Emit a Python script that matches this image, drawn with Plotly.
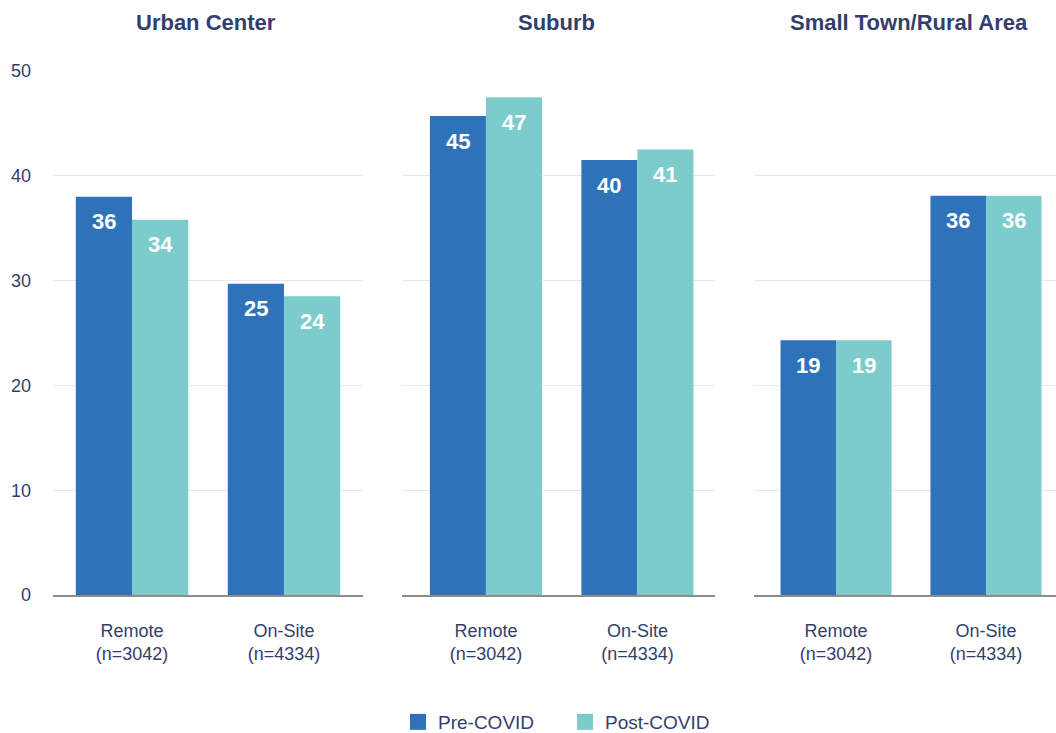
import plotly.graph_objects as go
from plotly.subplots import make_subplots

# data
regions = ["Urban Center", "Suburb", "Small Town/Rural Area"]
work_types = ["Remote<br>(n=3042)", "On-Site<br>(n=4334)"]

pre_values = [[38.0, 29.7], [45.7, 41.5], [24.3, 38.1]]
post_values = [[35.8, 28.5], [47.5, 42.5], [24.3, 38.1]]
pre_labels = [["36", "25"], ["45", "40"], ["19", "36"]]
post_labels = [["34", "24"], ["47", "41"], ["19", "36"]]
y_ticks = [0, 10, 20, 30, 40, 50]

PRE_COLOR = "#2e73b9"
POST_COLOR = "#7ccccb"
NAVY = "#343e6b"
FONT = "Liberation Sans"
BARGAP = 0.26

# pixel layout of the panels (plot area runs from x=53 to 1056)
L, R = 53, 1056
W = R - L
panel_px = [(53, 363), (402, 715), (754, 1056)]
x_ranges = [[-0.52, 1.52], [-0.554, 1.512], [-0.547, 1.467]]

fig = make_subplots(rows=1, cols=3, shared_yaxes=True)

half = (1 - BARGAP) / 4  # offset of each bar centre from its category
annotations = []

for i, region in enumerate(regions):
    fig.add_trace(go.Bar(x=work_types, y=pre_values[i], name="Pre-COVID",
                         marker=dict(color=PRE_COLOR, line_width=0),
                         showlegend=False, hoverinfo="skip"), row=1, col=i + 1)
    fig.add_trace(go.Bar(x=work_types, y=post_values[i], name="Post-COVID",
                         marker=dict(color=POST_COLOR, line_width=0),
                         showlegend=False, hoverinfo="skip"), row=1, col=i + 1)

    xref = "x" if i == 0 else f"x{i + 1}"
    yref = "y" if i == 0 else f"y{i + 1}"
    for j in range(len(work_types)):
        for off, vals, labs in [(-half, pre_values, pre_labels), (half, post_values, post_labels)]:
            annotations.append(dict(
                x=j + off, y=vals[i][j], xref=xref, yref=yref,
                text=labs[i][j], showarrow=False, yanchor="middle", yshift=-25,
                font=dict(family=FONT, size=22, color="white", weight="bold")))

    # panel title
    left, right = panel_px[i]
    centre = left + 155 if i == 2 else (left + right) / 2 - 2
    annotations.append(dict(
        x=(centre - L) / W, y=1.0935, xref="paper", yref="paper",
        text=region, showarrow=False, xanchor="center", yanchor="middle",
        font=dict(family=FONT, size=22, color=NAVY, weight="bold")))

# legend proxies with bigger squares
for name, color in [("Pre-COVID", PRE_COLOR), ("Post-COVID", POST_COLOR)]:
    fig.add_trace(go.Scatter(x=[None], y=[None], mode="markers", name=name,
                             marker=dict(symbol="square", size=16, color=color)),
                  row=1, col=1)

for i in range(3):
    left, right = panel_px[i]
    fig.update_xaxes(domain=[(left - L) / W, (right - L) / W], range=x_ranges[i],
                     showline=True, linecolor="#8c8c8c", linewidth=2,
                     showgrid=False, zeroline=False, ticks="",
                     ticklabelstandoff=18,
                     tickfont=dict(family=FONT, size=18, color=NAVY),
                     row=1, col=i + 1)
    fig.update_yaxes(range=[0, 50], tickvals=y_ticks, showgrid=True,
                     gridcolor="#e8e8e8", gridwidth=1, zeroline=False,
                     showticklabels=(i == 0), ticklabelstandoff=21,
                     tickfont=dict(family=FONT, size=18, color=NAVY),
                     row=1, col=i + 1)

fig.update_layout(
    width=1056, height=733,
    margin=dict(l=L, r=0, t=71, b=138),
    barmode="group", bargap=BARGAP, bargroupgap=0,
    plot_bgcolor="white", paper_bgcolor="white",
    font=dict(family=FONT, color=NAVY),
    annotations=annotations,
    legend=dict(orientation="h", x=(565 - L) / W, xanchor="center",
                yref="container", y=1 - 722 / 733, yanchor="middle",
                entrywidth=122,
                font=dict(family=FONT, size=19, color=NAVY)),
)

fig.write_html("out.html", config={"displayModeBar": False},
               post_script="document.body.style.margin='0';")
